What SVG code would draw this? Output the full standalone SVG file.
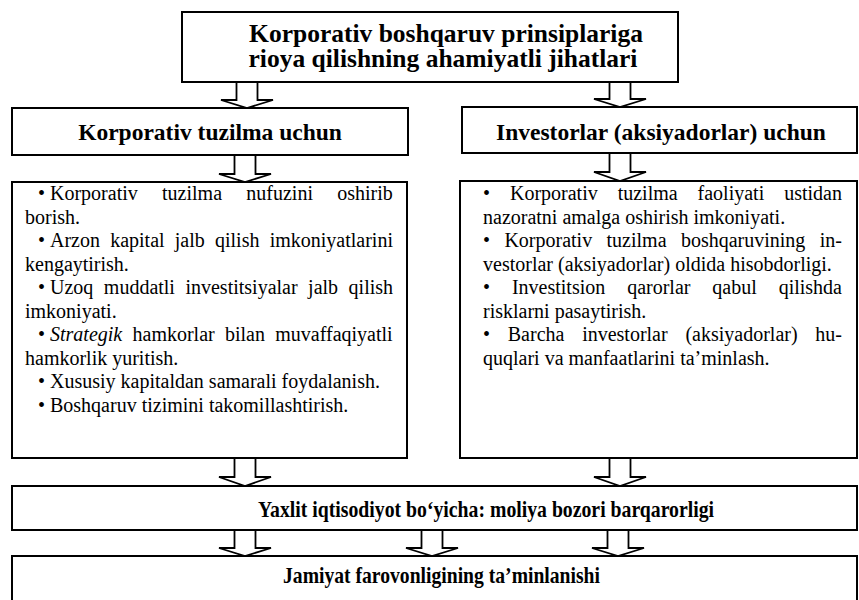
<svg xmlns="http://www.w3.org/2000/svg" width="859" height="600" viewBox="0 0 859 600">
<style>
.box{fill:#fff;stroke:#000;stroke-width:2}
.arr{fill:#fff;stroke:#000;stroke-width:1.8;stroke-linejoin:miter}
.h{font-family:"Liberation Serif","Times New Roman",serif;font-weight:bold;fill:#000;text-anchor:middle}
.t{font-family:"Liberation Serif","Times New Roman",serif;font-size:20px;fill:#000}
</style>
<rect width="859" height="600" fill="#fff"/>
<g id="title">
<rect class="box" x="182" y="12" width="496" height="70"/>
<text class="h" font-size="25.5" x="446" y="42">Korporativ boshqaruv prinsiplariga</text>
<text class="h" font-size="25.5" x="443" y="67">rioya qilishning ahamiyatli jihatlari</text>
</g>
<g id="corp">
<rect class="box" x="12" y="108" width="396" height="47"/>
<text class="h" font-size="23.5" x="210" y="140">Korporativ tuzilma uchun</text>
</g>
<g id="inv">
<rect class="box" x="462" y="107" width="395" height="46"/>
<text class="h" font-size="23.5" x="661" y="140">Investorlar (aksiyadorlar) uchun</text>
</g>
<g id="corp-list">
<rect class="box" x="12" y="182" width="395" height="276"/>
<text class="t" y="200"><tspan x="38">•</tspan><tspan x="50" word-spacing="19.3">Korporativ tuzilma nufuzini oshirib</tspan></text>
<text class="t" x="25" y="223.5">borish.</text>
<text class="t" y="247"><tspan x="38">•</tspan><tspan x="50" word-spacing="5.2">Arzon kapital jalb qilish imkoniyatlarini</tspan></text>
<text class="t" x="25" y="270.5">kengaytirish.</text>
<text class="t" y="294"><tspan x="38">•</tspan><tspan x="50" word-spacing="5.5">Uzoq muddatli investitsiyalar jalb qilish</tspan></text>
<text class="t" x="25" y="317.5">imkoniyati.</text>
<text class="t" y="341"><tspan x="38">•</tspan><tspan x="50" word-spacing="5.3"><tspan font-style="italic">Strategik</tspan> hamkorlar bilan muvaffaqiyatli</tspan></text>
<text class="t" x="25" y="364.5">hamkorlik yuritish.</text>
<text class="t" y="388"><tspan x="38">•</tspan><tspan x="50">Xususiy kapitaldan samarali foydalanish.</tspan></text>
<text class="t" y="411.5"><tspan x="38">•</tspan><tspan x="50">Boshqaruv tizimini takomillashtirish.</tspan></text>
</g>
<g id="inv-list">
<rect class="box" x="460" y="181" width="397" height="277"/>
<text class="t" x="483" y="200" word-spacing="14.95">• Korporativ tuzilma faoliyati ustidan</text>
<text class="t" x="483" y="223.5">nazoratni amalga oshirish imkoniyati.</text>
<text class="t" x="483" y="247" word-spacing="9.4">• Korporativ tuzilma boshqaruvining in-</text>
<text class="t" x="483" y="270.5">vestorlar (aksiyadorlar) oldida hisobdorligi.</text>
<text class="t" x="483" y="294" word-spacing="16.9">• Investitsion qarorlar qabul qilishda</text>
<text class="t" x="483" y="317.5">risklarni pasaytirish.</text>
<text class="t" x="483" y="341" word-spacing="12.75">• Barcha investorlar (aksiyadorlar) hu-</text>
<text class="t" x="483" y="364.5">quqlari va manfaatlarini ta’minlash.</text>
</g>
<g id="economy">
<rect class="box" x="12" y="486" width="845" height="44"/>
<text class="h" font-size="23" x="486" y="517" textLength="456" lengthAdjust="spacingAndGlyphs">Yaxlit iqtisodiyot bo‘yicha: moliya bozori barqarorligi</text>
</g>
<g id="welfare">
<rect class="box" x="12" y="556" width="845" height="60"/>
<text class="h" font-size="23" x="441.5" y="583" textLength="317" lengthAdjust="spacingAndGlyphs">Jamiyat farovonligining ta’minlanishi</text>
</g>
<g id="connectors">
<path class="arr" d="M236.5 83V100H221L247 108L273 100H257.5V83"/>
<path class="arr" d="M609.5 83V99H594L620 107L646 99H630.5V83"/>
<path class="arr" d="M234.5 156V174H219L245 182L271 174H255.5V156"/>
<path class="arr" d="M609.5 154V172H594L620 181L646 172H630.5V154"/>
<path class="arr" d="M234.5 459V477H219L245 486L271 477H255.5V459"/>
<path class="arr" d="M609.5 459V477H594L620 486L646 477H630.5V459"/>
<path class="arr" d="M234.5 531V548H219L245 556L271 548H255.5V531"/>
<path class="arr" d="M421.5 531V548H406L432 556L458 548H442.5V531"/>
<path class="arr" d="M607.5 531V548H592L618 556L644 548H628.5V531"/>
</g>
</svg>
